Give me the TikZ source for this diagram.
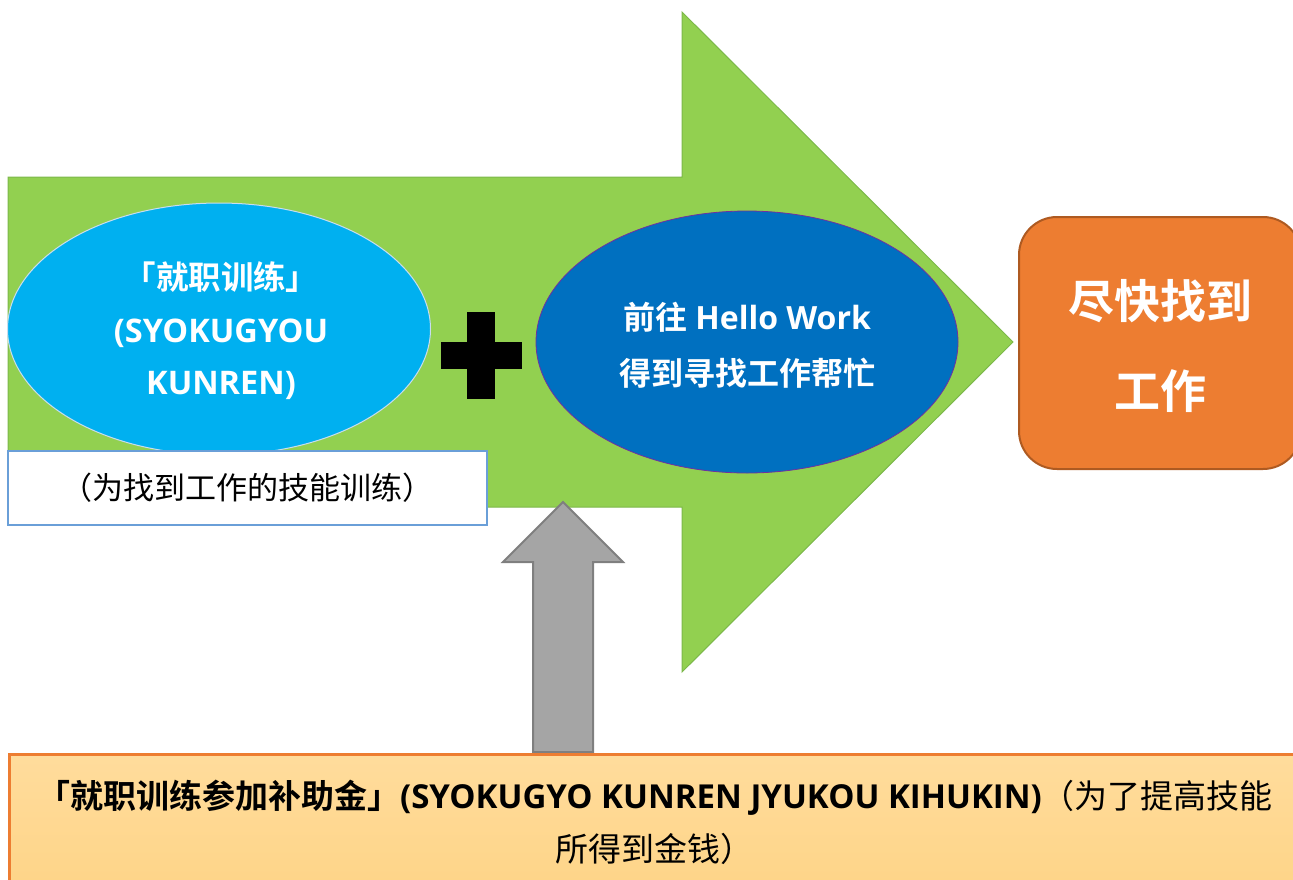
\documentclass[tikz,border=0pt]{standalone}
\usepackage{fontspec}
\setmainfont{Open Sans}
\newfontfamily\lat{Open Sans}
\newfontfamily\cjk{Noto Sans CJK SC}[BoldFont={Noto Sans CJK SC Bold}]
\newfontfamily\cjkp{Noto Sans CJK SC}[BoldFont={Noto Sans CJK SC Bold},RawFeature=+palt]
\usetikzlibrary{shapes.geometric}
\definecolor{arrowgreen}{HTML}{92D050}
\definecolor{arrowgreenline}{HTML}{7CB84A}
\definecolor{lightblue}{HTML}{00B0F0}
\definecolor{lightblueline}{HTML}{C9DDEE}
\definecolor{darkblue}{HTML}{0070C0}
\definecolor{purpleline}{HTML}{7030A0}
\definecolor{boxline}{HTML}{6A9FD8}
\definecolor{orangefill}{HTML}{ED7D31}
\definecolor{orangeline}{HTML}{AE5A21}
\definecolor{grayfill}{HTML}{A5A5A5}
\definecolor{grayline}{HTML}{7F7F7F}
\definecolor{paletop}{HTML}{FFDC9C}
\definecolor{palebottom}{HTML}{FED384}
\begin{document}
\begin{tikzpicture}[x=1pt,y=-1pt,
  bigarrow/.style={fill=arrowgreen, draw=arrowgreenline, line width=1pt},
  upsarrow/.style={fill=grayfill, draw=grayline, line width=2pt},
  oval/.style={ellipse, inner sep=0pt},
  whitetext/.style={text=white, align=center},
]
\useasboundingbox (0,0) rectangle (1293,879);

% big green arrow
\draw[bigarrow] (8,177) -- (682,177) -- (682,12) -- (1013,342) -- (682,672) -- (682,507) -- (8,507) -- cycle;

% light blue ellipse
\node[oval, fill=lightblue, draw=lightblueline, line width=1pt,
      minimum width=423pt, minimum height=252pt] (training) at (219,329) {};
\node[whitetext, font=\bfseries\fontsize{32.5}{52.5}\selectfont] (trainingtext) at (221,331)
  {{\cjkp 「就职训练」}\\(SYOKUGYOU\\KUNREN)};

% white description box
\node[draw=boxline, fill=white, line width=2pt, minimum width=479pt, minimum height=74pt,
      inner sep=0pt, font=\cjk\fontsize{31}{34}\selectfont] (desc) at (247.5,488)
  {（为找到工作的技能训练）};

% plus sign
\fill[black] (467,312) rectangle (495,399);
\fill[black] (441,342) rectangle (522,369);

% dark blue ellipse
\node[oval, fill=darkblue, draw=purpleline, line width=0.8pt,
      minimum width=422pt, minimum height=262pt] (hellowork) at (747,342) {};
\node[whitetext, font=\bfseries\fontsize{32}{56}\selectfont] (helloworktext) at (747,345)
  {{\cjk 前往} Hello Work\\{\cjk 得到寻找工作帮忙}};

% orange goal box
\node[draw=orangeline, fill=orangefill, line width=2pt, rounded corners=38pt,
      minimum width=282pt, minimum height=252pt, inner sep=0pt] (goal) at (1160,343) {};
\node[whitetext, font=\cjk\bfseries\fontsize{46}{90}\selectfont] (goaltext) at (1160,346)
  {尽快找到\\工作};

% gray up arrow
\draw[upsarrow] (563,502) -- (623,562) -- (593,562) -- (593,752) -- (533,752) -- (533,562) -- (503,562) -- cycle;

% bottom subsidy box
\node[draw=orangefill, line width=3pt, top color=paletop, bottom color=palebottom,
      minimum width=1310pt, minimum height=160pt, anchor=north west, inner sep=0pt] (subsidy) at (8,753) {};
\node[align=center, text=black, font=\cjk\fontsize{33}{53}\selectfont] (subsidytext) at (655,822)
  {{\bfseries 「就职训练参加补助金」\lat (SYOKUGYO KUNREN JYUKOU KIHUKIN)}（为了提高技能\\所得到金钱）};
\end{tikzpicture}
\end{document}
